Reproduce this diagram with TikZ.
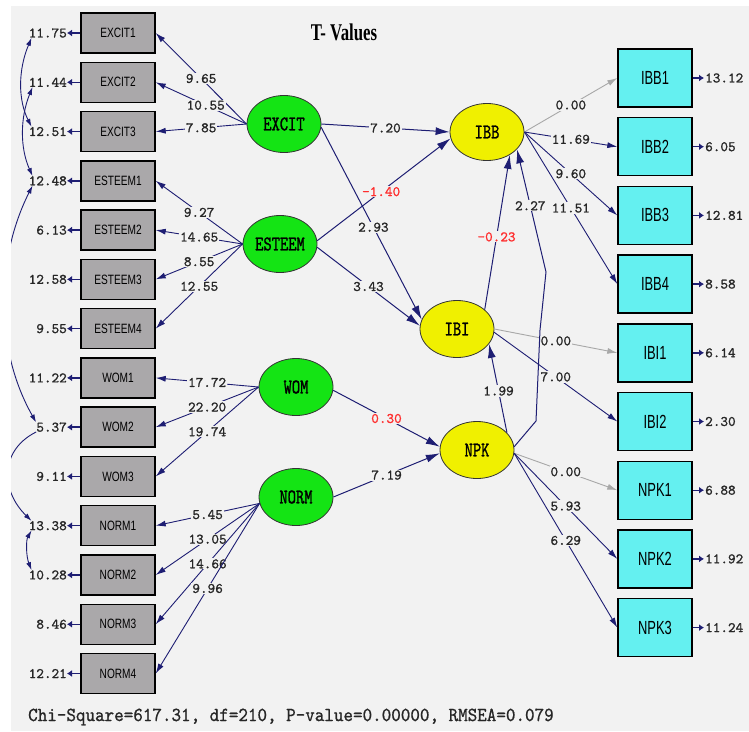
\documentclass[tikz,border=0pt]{standalone}
\usepackage{fontspec}
\usetikzlibrary{arrows.meta,shapes.geometric}
% fonts
\newfontfamily\numfont[FakeBold=1.2]{lmmono10-regular.otf}
\newfontfamily\latfont[FakeStretch=0.75,FakeBold=1.2]{lmmono10-regular.otf}
\newfontfamily\fitfont[FakeStretch=0.91,FakeBold=0.8]{lmmono10-regular.otf}
\newfontfamily\boxfont[FakeStretch=0.75]{Liberation Sans}
\newfontfamily\cyanfont[FakeStretch=0.68]{Liberation Sans}
\newfontfamily\titlefont[FakeStretch=0.7]{Liberation Serif}
% colours
\definecolor{bg}{HTML}{F2F2F2}
\definecolor{navy}{RGB}{30,30,115}
\definecolor{fixedc}{RGB}{168,168,168}
\definecolor{boxgray}{RGB}{170,168,170}
\definecolor{cyanbox}{RGB}{100,240,240}
\definecolor{latgreen}{RGB}{20,228,20}
\definecolor{endoy}{RGB}{240,240,0}
\definecolor{negred}{RGB}{255,45,45}
\tikzset{
  obsL/.style={draw=black, line width=1.4pt, fill=boxgray, minimum width=74pt,
    minimum height=40pt, inner sep=0pt, font=\boxfont\fontsize{13.5}{13.5}\selectfont},
  obsR/.style={draw=black, line width=1.4pt, fill=cyanbox, minimum width=74pt,
    minimum height=58pt, inner sep=0pt, font=\cyanfont\fontsize{19}{19}\selectfont},
  lat/.style={ellipse, draw=black!80, line width=0.8pt, minimum width=74pt,
    minimum height=57pt, inner sep=0pt, font=\latfont\fontsize{21}{21}\selectfont},
  exo/.style={lat, fill=latgreen},
  endo/.style={lat, fill=endoy},
  val/.style={fill=bg, inner sep=1pt, text=black!85,
    font=\numfont\fontsize{14.5}{14.5}\selectfont},
  neg/.style={val, text=negred},
  errval/.style={inner sep=0pt, text=black!85, font=\numfont\fontsize{14.5}{14.5}\selectfont},
  load/.style={draw=navy, line width=0.9pt, -{Latex[length=10pt,width=6pt]}},
  fixed/.style={draw=fixedc, line width=0.9pt, -{Latex[length=10pt,width=6pt]}},
  struct/.style={draw=navy, line width=1pt, -{Latex[length=14pt,width=8pt]}},
  errarr/.style={draw=navy, line width=1.4pt, -{Latex[length=5pt,width=7pt]}},
  cov/.style={draw=navy, line width=0.9pt, {Latex[length=8pt,width=5pt]}-{Latex[length=8pt,width=5pt]}},
  covend/.style={draw=navy, line width=0.9pt, -{Latex[length=8pt,width=5pt]}},
}
\begin{document}
\begin{tikzpicture}[x=1pt,y=-1pt]
\useasboundingbox (0,0) rectangle (749,731);
\fill[bg] (11,6) rectangle (749,731);

% title
\node[font=\titlefont\bfseries\fontsize{24}{24}\selectfont] (title) at (344,32) {T- Values};

% observed indicators, left column, with error variances
\foreach \t/\e [count=\i from 0] in {EXCIT1/11.75,EXCIT2/11.44,EXCIT3/12.51,
    ESTEEM1/12.48,ESTEEM2/6.13,ESTEEM3/12.58,ESTEEM4/9.55,WOM1/11.22,WOM2/5.37,
    WOM3/9.11,NORM1/13.38,NORM2/10.28,NORM3/8.46,NORM4/12.21} {
  \node[obsL] (L\i) at (118,{33+49.27*\i}) {\t};
  \node[errval, anchor=east] (el\i) at (67,{33+49.27*\i}) {\e};
  \draw[errarr] (L\i.west) -- (el\i.east);
}

% observed indicators, right column, with error variances
\foreach \t/\e [count=\i from 0] in {IBB1/13.12,IBB2/6.05,IBB3/12.81,IBB4/8.58,
    IBI1/6.14,IBI2/2.30,NPK1/6.88,NPK2/11.92,NPK3/11.24} {
  \node[obsR] (R\i) at (655,{78+68.7*\i}) {\t};
  \node[errval, anchor=west] (er\i) at (705,{78+68.7*\i}) {\e};
  \draw[errarr] (R\i.east) -- ([xshift=-1pt]er\i.west);
}

% latent variables
\node[exo] (EXCIT) at (284,124) {EXCIT};
\node[exo] (ESTEEM) at (280,244) {ESTEEM};
\node[exo] (WOM) at (296,387) {WOM};
\node[exo] (NORM) at (296,497) {NORM};
\node[endo] (IBB) at (487,132) {IBB};
\node[endo] (IBI) at (457,329) {IBI};
\node[endo] (NPK) at (477,450) {NPK};

% loadings of the exogenous constructs
\draw[load] (EXCIT.180) -- node[val,pos=0.5] {9.65} (L0.east);
\draw[load] (EXCIT.180) -- node[val,pos=0.45] {10.55} (L1.east);
\draw[load] (EXCIT.180) -- node[val,pos=0.5] {7.85} (L2.east);
\draw[load] (ESTEEM.180) -- node[val,pos=0.5] {9.27} (L3.east);
\draw[load] (ESTEEM.180) -- node[val,pos=0.5] {14.65} (L4.east);
\draw[load] (ESTEEM.180) -- node[val,pos=0.5] {8.55} (L5.east);
\draw[load] (ESTEEM.180) -- node[val,pos=0.5] {12.55} (L6.east);
\draw[load] (WOM.180) -- node[val,pos=0.5] {17.72} (L7.east);
\draw[load] (WOM.180) -- node[val,pos=0.5] {22.20} (L8.east);
\draw[load] (WOM.180) -- node[val,pos=0.5] {19.74} (L9.east);
\draw[load] (NORM.190) -- node[val,pos=0.5] {5.45} (L10.east);
\draw[load] (NORM.190) -- node[val,pos=0.5] {13.05} (L11.east);
\draw[load] (NORM.190) -- node[val,pos=0.5] {14.66} (L12.east);
\draw[load] (NORM.190) -- node[val,pos=0.5] {9.96} (L13.east);

% loadings of the endogenous constructs
\draw[fixed] (IBB.east) -- node[val,pos=0.5] {0.00} (R0.west);
\draw[load] (IBB.east) -- node[val,pos=0.5] {11.69} (R1.west);
\draw[load] (IBB.east) -- node[val,pos=0.5] {9.60} (R2.west);
\draw[load] (IBB.east) -- node[val,pos=0.5] {11.51} (R3.west);
\draw[fixed] (IBI.east) -- node[val,pos=0.5] {0.00} (R4.west);
\draw[load] (IBI.-5) -- node[val,pos=0.5] {7.00} (R5.west);
\draw[fixed] (NPK.-5) -- node[val,pos=0.5] {0.00} (R6.west);
\draw[load] (NPK.-5) -- node[val,pos=0.5] {5.93} (R7.west);
\draw[load] (NPK.-5) -- node[val,pos=0.5] {6.29} (R8.west);

% structural paths
\draw[struct] (EXCIT.east) -- node[val,pos=0.5] {7.20} (IBB.west);
\draw[struct] (EXCIT.-5) -- node[val,pos=0.52] {2.93} (IBI.165);
\draw[struct] (ESTEEM.5) -- node[neg,pos=0.48] {-1.40} (IBB.190);
\draw[struct] (ESTEEM.-5) -- node[val,pos=0.5] {3.43} (IBI.175);
\draw[struct] (WOM.-5) -- node[neg,pos=0.5] {0.30} (NPK.175);
\draw[struct] (NORM.0) -- node[val,pos=0.5] {7.19} (NPK.185);
\draw[struct] (IBI.35) -- node[neg,pos=0.47] {-0.23} (IBB.-45);
\draw[struct] (NPK.30) -- node[val,pos=0.47] {1.99} (IBI.-25);
\coordinate (k1) at (536,421);
\coordinate (k2) at (540,330);
\coordinate (k3) at (546,272);
\draw[struct] (NPK.5) -- (k1) -- (k2) -- (k3) -- node[val,pos=0.54] {2.27} (IBB.-30);

% correlated errors on the left
\begin{scope}
  \clip (11,6) rectangle (749,731);
  \draw[cov] ([xshift=3pt]el0.south west) .. controls (18,70) and (18,100) .. ([xshift=3pt]el2.north west);
  \draw[cov] ([xshift=4pt]el1.south west) .. controls (20,118) and (20,148) .. ([xshift=4pt]el3.north west);
  \draw[cov] ([xshift=4pt]el3.south west) .. controls (-5,260) and (-5,350) .. (el8.north west);
  \draw[covend] (el8.south west) .. controls (0,450) and (0,490) .. ([xshift=3pt]el10.north west);
  \draw[cov] ([xshift=3pt]el10.south west) .. controls (26,540) and (26,556) .. ([xshift=3pt]el11.north west);
\end{scope}

% fit statistics
\node[anchor=west, inner sep=0pt, text=black!85, font=\fitfont\fontsize{20}{20}\selectfont] (fit)
  at (28,717) {Chi-Square=617.31, df=210, P-value=0.00000, RMSEA=0.079};
\end{tikzpicture}
\end{document}
